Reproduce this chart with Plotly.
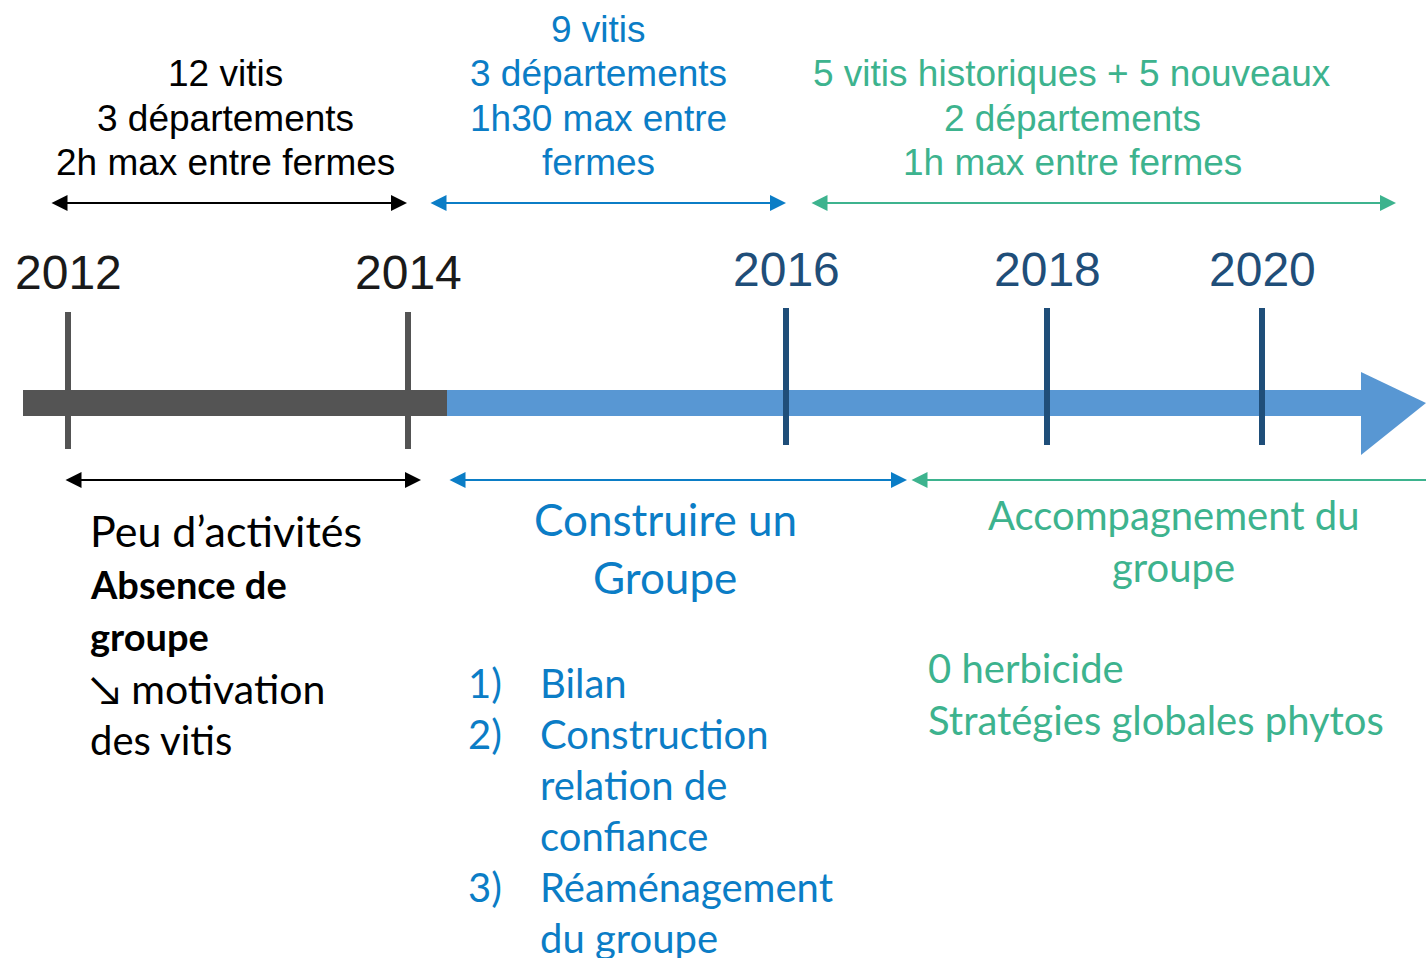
import plotly.graph_objects as go

# ---------------- data ----------------
years = ["2012", "2014", "2016", "2018", "2020"]
year_pos = [68, 408, 786, 1047, 1262]          # location of each year on the timeline
year_era = ["old", "old", "new", "new", "new"]

# timeline phases (start, end along the axis)
phase_names = ["avant", "groupe"]
phase_start = [23, 447]
phase_end = [447, 1361]
timeline_tip = 1426

# period spans (arrows above and below the timeline)
top_spans_start = [50, 429, 810]
top_spans_end = [407, 786, 1396]
bottom_spans_start = [64, 448, 910]
bottom_spans_end = [421, 907, 1426]

top_black_lines = ["12 vitis", "3 départements", "2h max entre fermes"]
top_blue_lines = ["9 vitis", "3 départements", "1h30 max entre", "fermes"]
top_green_lines = ["5 vitis historiques + 5 nouveaux", "2 départements", "1h max entre fermes"]

left_lines = ["Peu d’activités", "<b>Absence de</b>", "<b>groupe</b>", "↘ motivation", "des vitis"]
mid_title = ["Construire un", "Groupe"]
list_numbers = ["1)", "2)", "", "", "3)", ""]
list_items = ["Bilan", "Construction", "relation de", "confiance", "Réaménagement", "du groupe"]
right_title = ["Accompagnement du", "groupe"]
right_lines = ["0 herbicide", "Stratégies globales phytos"]

# ---------------- styles ----------------
DARK = "#545454"
SKY = "#5897D3"
NAVY = "#1F4E79"
BLUE = "#0B7DC6"
GREEN = "#3DB38E"
ARIAL = "Liberation Sans, Arial, sans-serif"
CALIBRI = "Lato, Open Sans, sans-serif"

W, H = 1426, 958
fig = go.Figure()
shapes = []
annotations = []

# timeline bar
BAR_Y0, BAR_Y1 = 390, 416
phase_colors = [DARK, SKY]
for s, e, c in zip(phase_start, phase_end, phase_colors):
    shapes.append(dict(type="rect", xref="x", yref="y", x0=s, x1=e, y0=BAR_Y0, y1=BAR_Y1,
                       fillcolor=c, line=dict(width=0), layer="below"))
# arrow head of the timeline
shapes.append(dict(type="path", xref="x", yref="y",
                   path=f"M {phase_end[-1]},372 L {timeline_tip},403 L {phase_end[-1]},455 Z",
                   fillcolor=SKY, line=dict(width=0), layer="below"))

# year ticks and labels
for yr, xp, era in zip(years, year_pos, year_era):
    if era == "old":
        col, tcol, y0, y1, ly = DARK, "#1a1a1a", 312, 449, 272
    else:
        col, tcol, y0, y1, ly = NAVY, NAVY, 308, 445, 269
    fig.add_trace(go.Scatter(x=[xp, xp], y=[y0, y1], mode="lines",
                             line=dict(color=col, width=6), hoverinfo="skip"))
    annotations.append(dict(x=xp, y=ly, xref="x", yref="y", text=yr, showarrow=False,
                            font=dict(family=ARIAL, size=48, color=tcol),
                            xanchor="center", yanchor="middle"))


def span_arrow(x0, x1, y, color, start=True, end=True):
    annotations.append(dict(x=x1, y=y, ax=x0, ay=y, xref="x", yref="y", axref="x", ayref="y",
                            text="", showarrow=True, arrowcolor=color, arrowwidth=2,
                            arrowhead=2 if end else 0, startarrowhead=2 if start else 0,
                            arrowsize=1.6, startarrowsize=1.6,
                            arrowside="end+start" if start else "end",
                            standoff=0, startstandoff=0))


span_colors = ["#000000", BLUE, GREEN]
for s, e, c in zip(top_spans_start, top_spans_end, span_colors):
    span_arrow(s, e, 203, c)
for i, (s, e, c) in enumerate(zip(bottom_spans_start, bottom_spans_end, span_colors)):
    span_arrow(s, e, 480, c, start=True, end=(i < 2))


def text_lines(lines, x, ys, color, family, sizes, anchor="center"):
    if not isinstance(sizes, list):
        sizes = [sizes] * len(lines)
    for t, y, sz in zip(lines, ys, sizes):
        if t == "":
            continue
        annotations.append(dict(x=x, y=y, xref="x", yref="y", text=t, showarrow=False,
                                font=dict(family=family, size=sz, color=color),
                                xanchor=anchor, yanchor="middle"))


text_lines(top_black_lines, 225, [73, 118, 162], "#000000", ARIAL, 37)
text_lines(top_blue_lines, 598, [29, 73, 118, 162], BLUE, ARIAL, 37)
text_lines(top_green_lines, 1072, [73, 118, 162], GREEN, ARIAL, 37)

text_lines(left_lines, 88, [530, 584, 636, 688, 740], "#000000", CALIBRI, [43, 38, 38, 41, 40], "left")
text_lines(mid_title, 665, [519, 577], BLUE, CALIBRI, 44)
list_y = [683, 734, 785, 836, 887, 938]
text_lines(list_numbers, 466, list_y, BLUE, CALIBRI, 40, "left")
text_lines(list_items, 538, list_y, BLUE, CALIBRI, 40, "left")
text_lines(right_title, 1173, [515, 567], GREEN, CALIBRI, 40)
text_lines(right_lines, 926, [668, 720], GREEN, CALIBRI, 40, "left")

fig.update_layout(
    width=W, height=H, margin=dict(l=0, r=0, t=0, b=0),
    paper_bgcolor="white", plot_bgcolor="white", showlegend=False,
    xaxis=dict(range=[0, W], visible=False, fixedrange=True),
    yaxis=dict(range=[H, 0], visible=False, fixedrange=True),
    shapes=shapes, annotations=annotations,
)
fig.write_html("out.html",
               config={"displayModeBar": False, "staticPlot": True},
               post_script="document.body.style.margin='0';document.body.style.overflow='hidden';")
